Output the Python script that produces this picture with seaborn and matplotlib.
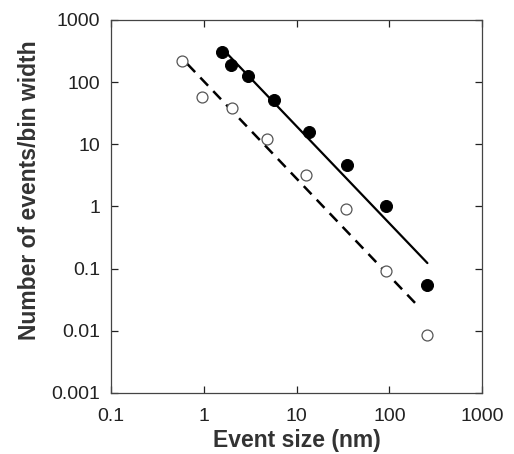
import numpy as np
import pandas as pd
import matplotlib
matplotlib.use("Agg")
import matplotlib.pyplot as plt
import seaborn as sns

# Dados (eixos log-log)
filled_x = [1.56, 1.95, 2.98, 5.7, 13.5, 34.7, 92, 257]
filled_y = [303, 189, 126, 52, 15.6, 4.7, 1.0, 0.054]
open_x = [0.58, 0.95, 2.0, 4.77, 12.6, 34, 92, 255]
open_y = [222, 57, 38, 12.2, 3.2, 0.91, 0.093, 0.0085]

# Retas de ajuste (extremos)
fit_filled_x = [1.77, 257]
fit_filled_y = [291, 0.123]
fit_open_x = [0.665, 211]
fit_open_y = [196, 0.0237]

sns.set_style("ticks")
plt.rcParams['font.family'] = ['Liberation Sans', 'DejaVu Sans']

fig = plt.figure(figsize=(5.14, 4.54), dpi=100)
ax = fig.add_axes([0.216, 0.1344, 0.722, 0.8216])

sns.lineplot(x=fit_filled_x, y=fit_filled_y, ax=ax, color='black', linewidth=1.6)
sns.lineplot(x=fit_open_x, y=fit_open_y, ax=ax, color='black', linewidth=1.8,
             dashes=False, linestyle=(0, (4.5, 3)))
sns.scatterplot(x=open_x, y=open_y, ax=ax, marker='o', s=62, facecolor='white',
                edgecolor='#555555', linewidth=0.9, zorder=3)
sns.scatterplot(x=filled_x, y=filled_y, ax=ax, marker='o', s=75, color='black',
                edgecolor='black', zorder=4)

ax.set_xscale('log')
ax.set_yscale('log')
ax.set_xlim(0.1, 1000)
ax.set_ylim(0.001, 1000)

xt = [0.1, 1, 10, 100, 1000]
yt = [0.001, 0.01, 0.1, 1, 10, 100, 1000]
ax.set_xticks(xt)
ax.set_xticklabels(['0.1', '1', '10', '100', '1000'])
ax.set_yticks(yt)
ax.set_yticklabels(['0.001', '0.01', '0.1', '1', '10', '100', '1000'])
ax.minorticks_off()
ax.tick_params(axis='both', which='major', direction='in', length=5, width=0.9,
               top=True, right=True, labelsize=14, colors='#222222')
ax.tick_params(axis='x', pad=11)
ax.tick_params(axis='y', pad=8)
for sp in ax.spines.values():
    sp.set_linewidth(0.9)
    sp.set_color('#444444')

ax.set_xlabel('Event size (nm)', fontsize=16.5, fontweight='bold', color='#333333')
ax.set_ylabel('Number of events/bin width', fontsize=16.5, fontweight='bold', color='#333333')
ax.xaxis.set_label_coords(0.5, -0.097)
ax.yaxis.set_label_coords(-0.19, 0.545)

fig.savefig('out.png', dpi=100)
